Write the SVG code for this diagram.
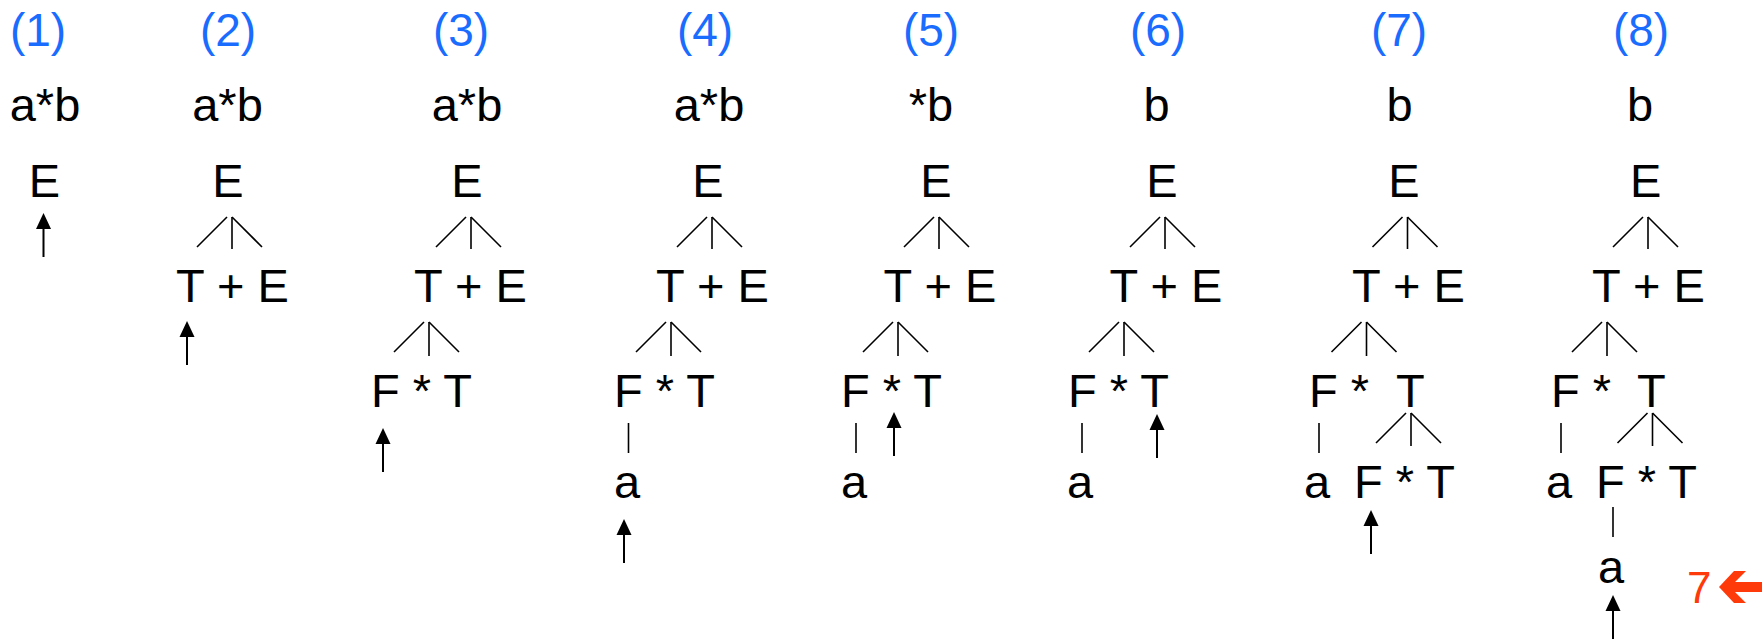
<svg xmlns="http://www.w3.org/2000/svg" xmlns:xlink="http://www.w3.org/1999/xlink" width="1764" height="639" viewBox="0 0 1764 639">
<style>
text{font-family:"Liberation Sans",Arial,Helvetica,sans-serif;font-size:47px;fill:#000}
.lbl{font-size:46px;fill:#1a6cff;text-anchor:middle}
.mid{text-anchor:middle}
.red{font-size:44px;fill:#ff3a0a}
#connectors line{stroke:#000;stroke-width:1.6;stroke-linecap:butt}
</style>
<defs>
<g id="ptr"><path d="M0,0 L7.5,16 L-7.5,16 Z" fill="#000"/><rect x="-1" y="15" width="2" height="29" fill="#000"/></g>
</defs>
<rect width="1764" height="639" fill="#fff"/>

<g id="labels">
<text class="lbl" x="38" y="46">(1)</text>
<text class="lbl" x="228" y="46">(2)</text>
<text class="lbl" x="461" y="46">(3)</text>
<text class="lbl" x="705" y="46">(4)</text>
<text class="lbl" x="931" y="46">(5)</text>
<text class="lbl" x="1158" y="46">(6)</text>
<text class="lbl" x="1399" y="46">(7)</text>
<text class="lbl" x="1641" y="46">(8)</text>
</g>

<g id="step1">
<text class="mid" x="45" y="121">a*b</text>
<text id="s1-E" class="mid" x="44.5" y="197">E</text>
</g>

<g id="step2">
<text class="mid" x="227.5" y="121">a*b</text>
<text id="s2-E" class="mid" x="228" y="197">E</text>
<text id="s2-TE" x="176" y="302">T + E</text>
</g>

<g id="step3">
<text class="mid" x="467" y="121">a*b</text>
<text id="s3-E" class="mid" x="467" y="197">E</text>
<text id="s3-TE" x="414" y="302">T + E</text>
<text id="s3-FT" x="371" y="407">F * T</text>
</g>

<g id="step4">
<text class="mid" x="709" y="121">a*b</text>
<text id="s4-E" class="mid" x="708" y="197">E</text>
<text id="s4-TE" x="656" y="302">T + E</text>
<text id="s4-FT" x="614" y="407">F * T</text>
<text id="s4-a" x="614" y="498">a</text>
</g>

<g id="step5">
<text class="mid" x="931" y="121">*b</text>
<text id="s5-E" class="mid" x="936" y="197">E</text>
<text id="s5-TE" x="883.6" y="302">T + E</text>
<text id="s5-FT" x="841" y="407">F * T</text>
<text id="s5-a" x="841" y="498">a</text>
</g>

<g id="step6">
<text class="mid" x="1156.6" y="121">b</text>
<text id="s6-E" class="mid" x="1162" y="197">E</text>
<text id="s6-TE" x="1109.6" y="302">T + E</text>
<text id="s6-FT" x="1068" y="407">F * T</text>
<text id="s6-a" x="1067" y="498">a</text>
</g>

<g id="step7">
<text class="mid" x="1399.5" y="121">b</text>
<text id="s7-E" class="mid" x="1404" y="197">E</text>
<text id="s7-TE" x="1352" y="302">T + E</text>
<text id="s7-FT1" x="1309" y="407">F *</text>
<text id="s7-T1" x="1396" y="407">T</text>
<text id="s7-a" x="1304" y="498">a</text>
<text id="s7-FT2" x="1354" y="498">F * T</text>
</g>

<g id="step8">
<text class="mid" x="1640" y="121">b</text>
<text id="s8-E" class="mid" x="1645.6" y="197">E</text>
<text id="s8-TE" x="1592" y="302">T + E</text>
<text id="s8-FT1" x="1551" y="407">F *</text>
<text id="s8-T1" x="1637" y="407">T</text>
<text id="s8-a" x="1546" y="498">a</text>
<text id="s8-FT2" x="1596" y="498">F * T</text>
<text id="s8-a2" x="1598" y="583">a</text>
</g>

<g id="connectors">
<!-- upper branches: E -> T + E -->
<line x1="197" y1="247" x2="227" y2="217"/><line x1="232" y1="217" x2="232" y2="249"/><line x1="232" y1="217" x2="262" y2="247"/>
<line x1="436" y1="247" x2="466" y2="217"/><line x1="471" y1="217" x2="471" y2="249"/><line x1="471" y1="217" x2="501" y2="247"/>
<line x1="677" y1="247" x2="707" y2="217"/><line x1="712" y1="217" x2="712" y2="249"/><line x1="712" y1="217" x2="742" y2="247"/>
<line x1="904" y1="247" x2="934" y2="217"/><line x1="939" y1="217" x2="939" y2="249"/><line x1="939" y1="217" x2="969" y2="247"/>
<line x1="1130" y1="247" x2="1160" y2="217"/><line x1="1165" y1="217" x2="1165" y2="249"/><line x1="1165" y1="217" x2="1195" y2="247"/>
<line x1="1372.5" y1="247" x2="1402.5" y2="217"/><line x1="1407.5" y1="217" x2="1407.5" y2="249"/><line x1="1407.5" y1="217" x2="1437.5" y2="247"/>
<line x1="1613" y1="247" x2="1643" y2="217"/><line x1="1648" y1="217" x2="1648" y2="249"/><line x1="1648" y1="217" x2="1678" y2="247"/>
<!-- lower branches: T -> F * T -->
<line x1="394" y1="352" x2="424" y2="322"/><line x1="429" y1="322" x2="429" y2="356"/><line x1="429" y1="322" x2="459" y2="352"/>
<line x1="636" y1="352" x2="666" y2="322"/><line x1="671" y1="322" x2="671" y2="356"/><line x1="671" y1="322" x2="701" y2="352"/>
<line x1="863" y1="352" x2="893" y2="322"/><line x1="898" y1="322" x2="898" y2="356"/><line x1="898" y1="322" x2="928" y2="352"/>
<line x1="1089" y1="352" x2="1119" y2="322"/><line x1="1124" y1="322" x2="1124" y2="356"/><line x1="1124" y1="322" x2="1154" y2="352"/>
<line x1="1331.5" y1="352" x2="1361.5" y2="322"/><line x1="1366.5" y1="322" x2="1366.5" y2="356"/><line x1="1366.5" y1="322" x2="1396.5" y2="352"/>
<line x1="1572" y1="352" x2="1602" y2="322"/><line x1="1607" y1="322" x2="1607" y2="356"/><line x1="1607" y1="322" x2="1637" y2="352"/>
<!-- F -> a -->
<line x1="628.5" y1="423" x2="628.5" y2="453"/>
<line x1="856" y1="423" x2="856" y2="453"/>
<line x1="1082" y1="423" x2="1082" y2="453"/>
<line x1="1319" y1="423" x2="1319" y2="453"/>
<line x1="1561" y1="423" x2="1561" y2="453"/>
<!-- third level: T -> F * T -->
<line x1="1376" y1="443" x2="1406" y2="413"/><line x1="1411" y1="413" x2="1411" y2="446"/><line x1="1411" y1="413" x2="1441" y2="443"/>
<line x1="1617.5" y1="443" x2="1647.5" y2="413"/><line x1="1652.5" y1="413" x2="1652.5" y2="446"/><line x1="1652.5" y1="413" x2="1682.5" y2="443"/>
<line x1="1613" y1="507" x2="1613" y2="537"/>
</g>

<g id="pointers">
<use xlink:href="#ptr" x="43.5" y="213"/>
<use xlink:href="#ptr" x="187" y="321"/>
<use xlink:href="#ptr" x="383" y="428"/>
<use xlink:href="#ptr" x="624" y="519"/>
<use xlink:href="#ptr" x="894" y="412"/>
<use xlink:href="#ptr" x="1157" y="414"/>
<use xlink:href="#ptr" x="1371" y="510"/>
<use xlink:href="#ptr" x="1613" y="595"/>
</g>

<g id="marker7">
<text class="red" x="1687" y="603">7</text>
<polygon points="1719,587 1734,571 1746,571 1735,582 1762,582 1762,592 1735,592 1746,603 1734,603" fill="#ff3a0a"/>
</g>
</svg>
